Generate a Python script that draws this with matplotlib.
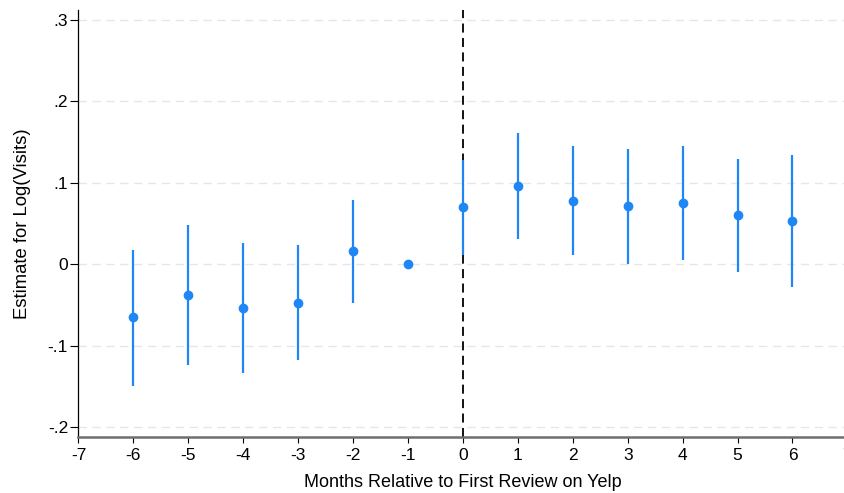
import matplotlib
matplotlib.use("Agg")
import matplotlib.pyplot as plt
import numpy as np

plt.rcParams['font.family'] = ['Liberation Sans', 'DejaVu Sans']

months = [-6, -5, -4, -3, -2, -1, 0, 1, 2, 3, 4, 5, 6]
estimate = [-0.065, -0.038, -0.054, -0.047, 0.016, 0.0, 0.070, 0.096, 0.078, 0.071, 0.075, 0.060, 0.053]
ci_low = [-0.150, -0.124, -0.134, -0.118, -0.047, 0.0, 0.011, 0.031, 0.011, 0.0005, 0.005, -0.010, -0.028]
ci_high = [0.018, 0.048, 0.026, 0.024, 0.079, 0.0, 0.128, 0.161, 0.145, 0.141, 0.145, 0.129, 0.134]
xticks = list(range(-7, 8))
yticks = [-0.2, -0.1, 0.0, 0.1, 0.2, 0.3]
ytick_labels = ['-.2', '-.1', '0', '.1', '.2', '.3']

fig = plt.figure(figsize=(8.44, 4.93), dpi=100)
ax = fig.add_axes([0.093, 0.1136, 0.911, 0.866])

color = '#1E87F5'
for yv in yticks:
    ax.axhline(yv, color='#e6e6e6', lw=1.0, ls=(0, (6, 4)), zorder=0)
ax.axvline(0, color='black', lw=1.3, ls=(0, (5, 3)), zorder=1)

for m, lo, hi in zip(months, ci_low, ci_high):
    if hi > lo:
        ax.vlines(m, lo, hi, color=color, lw=1.6, zorder=2)
ax.plot(months, estimate, 'o', color=color, ms=6, zorder=3)

ax.set_xlim(-7, 7)
ax.set_ylim(-0.212, 0.312)
ax.set_xticks(xticks)
ax.set_xticklabels([str(t) for t in xticks])
ax.set_yticks(yticks)
ax.set_yticklabels(ytick_labels)
ax.tick_params(axis='x', labelsize=12.5, length=4.2, width=0.8, direction='out', pad=3.5)
ax.tick_params(axis='y', labelsize=12.5, length=5.5, width=0.8, direction='out', pad=2)

for s in ['top', 'right']:
    ax.spines[s].set_visible(False)
ax.spines['left'].set_linewidth(0.9)
ax.spines['bottom'].set_color('#6e6e6e')
ax.spines['bottom'].set_linewidth(1.8)

ax.set_xlabel('Months Relative to First Review on Yelp', fontsize=13, labelpad=8)
ax.set_ylabel('Estimate for Log(Visits)', fontsize=13.3, labelpad=12)

fig.savefig('out.png', dpi=100)
